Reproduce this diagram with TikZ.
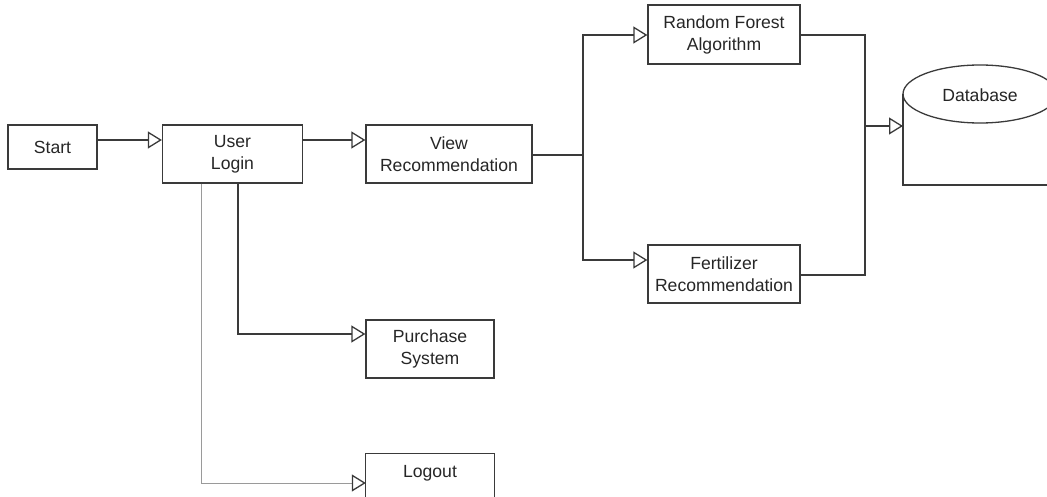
\documentclass[tikz,border=0pt]{standalone}
\usepackage{fontspec}
\setmainfont{Liberation Sans}
\usetikzlibrary{arrows.meta,calc}
\definecolor{ln}{HTML}{3A3A3A}
\definecolor{lg}{HTML}{9A9A9A}
\begin{document}
\begin{tikzpicture}[x=1pt,y=-1pt,
  box/.style={draw=ln,line width=1.3pt,rectangle,inner sep=0pt,align=center,
    font=\fontsize{17.6}{22}\selectfont,text=black!85},
  plain/.style={rectangle,inner sep=0pt,align=center,
    font=\fontsize{17.6}{22}\selectfont,text=black!85},
  conn/.style={draw=ln,line width=1.3pt,-{Triangle[open,length=14pt,width=17pt,line width=1.3pt]}},
  lconn/.style={draw=ln,line width=1.3pt},
  gconn/.style={draw=lg,line width=0.8pt,-{Triangle[open,length=14pt,width=17pt,line width=1.3pt,color=ln]}}]
\useasboundingbox (0,0) rectangle (1047,497);
\clip (0,0) rectangle (1047,497);
\node[box,minimum width=89pt,minimum height=44pt] (start) at (52.5,147) {Start};
\node[box,minimum width=140pt,minimum height=58pt] (login) at (232.5,154) {User\\Login};
\node[box,minimum width=166pt,minimum height=58pt] (view) at (449,154) {View\\Recommendation};
\node[box,minimum width=152pt,minimum height=59pt] (rf) at (724,34.5) {Random Forest\\Algorithm};
\node[box,minimum width=152pt,minimum height=58pt] (fert) at (724,274) {Fertilizer\\Recommendation};
\node[box,minimum width=128pt,minimum height=58pt] (purch) at (430,349) {Purchase\\System};
\node[plain,minimum width=128pt,minimum height=38pt] (logout) at (430,473) {Logout};
\draw[ln,line width=1.3pt] (logout.north west) rectangle ($(logout.south east)+(0,12)$);
% database
\coordinate (db) at (903,126);
\draw[ln,line width=1.3pt,fill=white] (980,94) ellipse [x radius=77, y radius=29];
\node[plain] (dbt) at (980,95) {Database};
\draw[ln,line width=1.3pt] (903,94) -- (903,185) -- (1060,185);
% connectors
\coordinate (ya) at (0,140);
\draw[conn] (start.east |- ya) -- (login.west |- ya);
\draw[conn] (login.east |- ya) -- (view.west |- ya);
\coordinate (sp) at (583,155);
\draw[lconn] (view.east |- sp) -- (sp);
\draw[conn] (sp) |- (rf.west |- {(0,35)});
\draw[conn] (sp) |- (fert.west |- {(0,260)});
\coordinate (mg) at (865,126);
\draw[lconn] (rf.east |- {(0,35)}) -| (mg);
\draw[lconn] (fert.east |- {(0,275)}) -| (mg);
\draw[conn] (mg) -- (db);
\draw[conn] (login.south -| {(238,0)}) |- (purch.west |- {(0,334)});
\draw[gconn] (login.south -| {(201,0)}) |- (logout.west |- {(0,483)});
\end{tikzpicture}
\end{document}
